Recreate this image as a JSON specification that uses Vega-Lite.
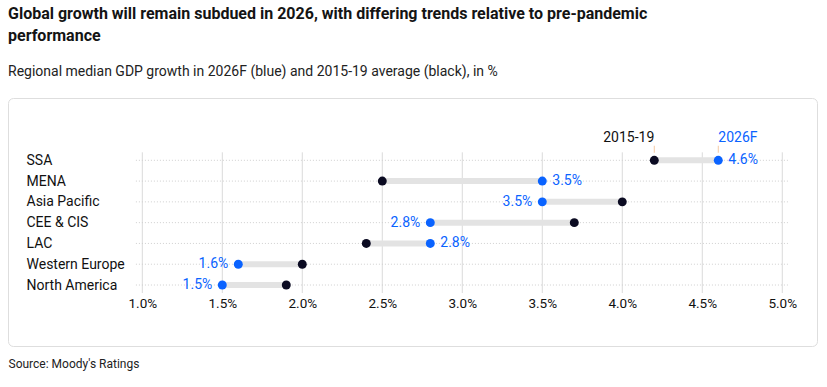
{
  "$schema": "https://vega.github.io/schema/vega-lite/v6.json",
  "width": 809,
  "height": 248,
  "padding": {"left": 8, "top": 6, "right": 10, "bottom": 10},
  "background": "white",
  "title": {
    "text": ["Global growth will remain subdued in 2026, with differing trends relative to pre-pandemic", "performance"],
    "subtitle": "Regional median GDP growth in 2026F (blue) and 2015-19 average (black), in %",
    "anchor": "start",
    "fontSize": 16,
    "fontWeight": "bold",
    "lineHeight": 22,
    "color": "#141414",
    "subtitleFontSize": 14,
    "subtitleColor": "#222222",
    "subtitlePadding": 21,
    "offset": 19
  },
  "config": {
    "font": "Roboto",
    "view": {"stroke": "#dedede", "strokeWidth": 1, "cornerRadius": 5}
  },
  "datasets": {
    "rows": [
      {"region": "SSA", "v2015": 4.2, "v2026": 4.6},
      {"region": "MENA", "v2015": 2.5, "v2026": 3.5},
      {"region": "Asia Pacific", "v2015": 4.0, "v2026": 3.5},
      {"region": "CEE & CIS", "v2015": 3.7, "v2026": 2.8},
      {"region": "LAC", "v2015": 2.4, "v2026": 2.8},
      {"region": "Western Europe", "v2015": 2.0, "v2026": 1.6},
      {"region": "North America", "v2015": 1.9, "v2026": 1.5}
    ],
    "gridticks": [
      {"v": 1.0}, {"v": 1.5}, {"v": 2.0}, {"v": 2.5}, {"v": 3.0},
      {"v": 3.5}, {"v": 4.0}, {"v": 4.5}, {"v": 5.0}
    ]
  },
  "layer": [
    {
      "data": {"name": "gridticks"},
      "mark": {"type": "rule", "color": "#dadada", "strokeWidth": 1, "yOffset": -8, "y2Offset": 8},
      "encoding": {
        "x": {
          "field": "v",
          "type": "quantitative",
          "scale": {"domain": [0.1606, 5.217], "nice": false, "zero": false},
          "axis": {
            "orient": "bottom",
            "values": [1, 1.5, 2, 2.5, 3, 3.5, 4, 4.5, 5],
            "labelExpr": "format(datum.value, '.1f') + '%'",
            "offset": -50,
            "ticks": false,
            "tickSize": 0,
            "domain": false,
            "grid": false,
            "labelPadding": 0,
            "labelFontSize": 13.5,
            "labelColor": "#111111",
            "title": "Source: Moody's Ratings",
            "titleAnchor": "start",
            "titleAlign": "left",
            "titleFontSize": 12,
            "titleFontWeight": "normal",
            "titleColor": "#222222",
            "titlePadding": 49
          }
        },
        "y": {
          "datum": "SSA",
          "type": "nominal",
          "scale": {
            "type": "point",
            "padding": 0,
            "range": [62.3, 187],
            "domain": ["SSA", "MENA", "Asia Pacific", "CEE & CIS", "LAC", "Western Europe", "North America"]
          },
          "axis": {
            "orient": "left",
            "labelAlign": "left",
            "labelPadding": -18,
            "tickSize": 0,
            "ticks": false,
            "domain": false,
            "grid": false,
            "labelFontSize": 14,
            "labelColor": "#111111",
            "title": null
          }
        },
        "y2": {"datum": "North America"}
      }
    },
    {
      "data": {"name": "rows"},
      "mark": {"type": "rule", "color": "#cfcfcf", "strokeWidth": 1, "strokeDash": [1, 2]},
      "encoding": {
        "x": {"datum": 0.96, "type": "quantitative"},
        "x2": {"datum": 5.035},
        "y": {"field": "region", "type": "nominal"}
      }
    },
    {
      "data": {"name": "rows"},
      "mark": {"type": "rule", "color": "#e3e3e3", "strokeWidth": 6},
      "encoding": {
        "x": {"field": "v2015", "type": "quantitative"},
        "x2": {"field": "v2026"},
        "y": {"field": "region", "type": "nominal"}
      }
    },
    {
      "data": {"name": "rows"},
      "mark": {"type": "circle", "color": "#0b0b22", "opacity": 1, "size": 80},
      "encoding": {
        "x": {"field": "v2015", "type": "quantitative"},
        "y": {"field": "region", "type": "nominal"}
      }
    },
    {
      "data": {"name": "rows"},
      "mark": {"type": "circle", "color": "#0a63ff", "opacity": 1, "size": 80},
      "encoding": {
        "x": {"field": "v2026", "type": "quantitative"},
        "y": {"field": "region", "type": "nominal"}
      }
    },
    {
      "data": {"name": "rows"},
      "transform": [
        {"filter": "datum.v2026 > datum.v2015"},
        {"calculate": "format(datum.v2026, '.1f') + '%'", "as": "label"}
      ],
      "mark": {"type": "text", "align": "left", "baseline": "middle", "dx": 10, "fontSize": 14, "color": "#0a63ff"},
      "encoding": {
        "x": {"field": "v2026", "type": "quantitative"},
        "y": {"field": "region", "type": "nominal"},
        "text": {"field": "label"}
      }
    },
    {
      "data": {"name": "rows"},
      "transform": [
        {"filter": "datum.v2026 <= datum.v2015"},
        {"calculate": "format(datum.v2026, '.1f') + '%'", "as": "label"}
      ],
      "mark": {"type": "text", "align": "right", "baseline": "middle", "dx": -10, "fontSize": 14, "color": "#0a63ff"},
      "encoding": {
        "x": {"field": "v2026", "type": "quantitative"},
        "y": {"field": "region", "type": "nominal"},
        "text": {"field": "label"}
      }
    },
    {
      "data": {"name": "rows"},
      "transform": [{"filter": "datum.region == 'SSA'"}],
      "mark": {"type": "tick", "orient": "vertical", "color": "#f0b27a", "thickness": 1, "size": 7, "yOffset": -11},
      "encoding": {
        "x": {"field": "v2015", "type": "quantitative"},
        "y": {"field": "region", "type": "nominal"}
      }
    },
    {
      "data": {"name": "rows"},
      "transform": [{"filter": "datum.region == 'SSA'"}],
      "mark": {"type": "tick", "orient": "vertical", "color": "#f0b27a", "thickness": 1, "size": 7, "yOffset": -11},
      "encoding": {
        "x": {"field": "v2026", "type": "quantitative"},
        "y": {"field": "region", "type": "nominal"}
      }
    },
    {
      "data": {"name": "rows"},
      "transform": [{"filter": "datum.region == 'SSA'"}],
      "mark": {"type": "text", "align": "right", "baseline": "middle", "dy": -22, "fontSize": 14, "color": "#111111"},
      "encoding": {
        "x": {"field": "v2015", "type": "quantitative"},
        "y": {"field": "region", "type": "nominal"},
        "text": {"value": "2015-19"}
      }
    },
    {
      "data": {"name": "rows"},
      "transform": [{"filter": "datum.region == 'SSA'"}],
      "mark": {"type": "text", "align": "left", "baseline": "middle", "dy": -22, "fontSize": 14, "color": "#0a63ff"},
      "encoding": {
        "x": {"field": "v2026", "type": "quantitative"},
        "y": {"field": "region", "type": "nominal"},
        "text": {"value": "2026F"}
      }
    }
  ]
}
